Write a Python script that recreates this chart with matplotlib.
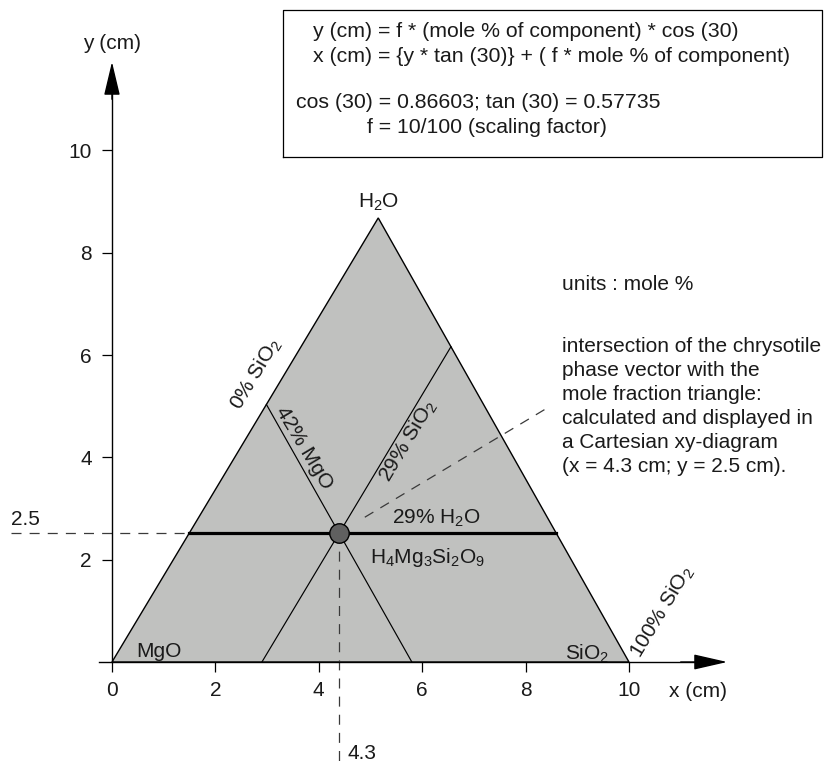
import matplotlib
matplotlib.use("Agg")
import matplotlib.pyplot as plt
import numpy as np

plt.rcParams['font.family'] = ['Liberation Sans', 'DejaVu Sans']
plt.rcParams['mathtext.fontset'] = 'custom'
plt.rcParams['mathtext.rm'] = 'Liberation Sans'
plt.rcParams['mathtext.it'] = 'Liberation Sans'
plt.rcParams['mathtext.default'] = 'regular'

# ---- data ----
components = ["MgO", "SiO$_2$", "H$_2$O"]
vertex_x = [0.0, 10.0, 5.15]
vertex_y = [0.0, 0.0, 8.68]
mole_mgo, mole_sio2, mole_h2o = 42, 29, 29
x_ticks = [0, 2, 4, 6, 8, 10]
y_ticks = [2, 4, 6, 8, 10]
point_x_label = "4.3"
point_y_label = "2.5"
formula_lines = ["y (cm) = f * (mole % of component) * cos (30)",
                 "x (cm) = {y * tan (30)} + ( f * mole % of component)",
                 "",
                 "cos (30) = 0.86603; tan (30) = 0.57735",
                 "f = 10/100 (scaling factor)"]
note_lines = ["intersection of the chrysotile", "phase vector with the",
              "mole fraction triangle:", "calculated and displayed in",
              "a Cartesian xy-diagram", "(x = 4.3 cm; y = 2.5 cm)."]

FS = 15
FSB = 15.35
TXT = '#1a1a1a'

fig = plt.figure(figsize=(8.24, 7.61), dpi=100)
ax = fig.add_axes([0, 0, 1, 1])
ax.set_xlim(-2.166, 13.772)
ax.set_ylim(-1.935, 12.94)

A = np.array([vertex_x[0], vertex_y[0]])
B = np.array([vertex_x[1], vertex_y[1]])
C = np.array([vertex_x[2], vertex_y[2]])

def bary(m, s, h):
    t = m + s + h
    return (m * A + s * B + h * C) / t

# triangle
ax.fill(vertex_x, vertex_y, facecolor='#c0c1bf', edgecolor='black', lw=1.0, zorder=1)

# constant-composition lines
mg = mole_mgo / 100.0
si = mole_sio2 / 100.0
hw = mole_h2o / 100.0
p1 = bary(mg, 1 - mg, 0); p2 = bary(mg, 0, 1 - mg)
ax.plot([p1[0], p2[0]], [p1[1], p2[1]], color='black', lw=0.85, zorder=2)
q1 = bary(1 - si, si, 0); q2 = bary(0, si, 1 - si)
ax.plot([q1[0], q2[0]], [q1[1], q2[1]], color='black', lw=0.85, zorder=2)
r1 = bary(1 - hw, 0, hw); r2 = bary(0, 1 - hw, hw)
ax.plot([r1[0], r2[0]], [r1[1], r2[1]], color='black', lw=2.3, zorder=3)

P = bary(mg, si, hw)

# dashed guide lines
dash = dict(color='#3a3a3a', lw=0.9, dashes=(8, 6.5), zorder=2)
ax.plot([-1.95, P[0]], [P[1], P[1]], **dash)
ax.plot([P[0], P[0]], [P[1], -2.0], **dash)
ax.plot([4.89, 8.41], [2.83, 4.96], **dash)

# intersection point
ax.plot([P[0]], [P[1]], 'o', ms=14, mfc='#606060', mec='black', mew=1.0, zorder=5)

# axes
for s in ['top', 'right']:
    ax.spines[s].set_visible(False)
ax.spines['left'].set_position(('data', 0))
ax.spines['bottom'].set_position(('data', 0))
ax.spines['left'].set_bounds(0, 11.2)
ax.spines['bottom'].set_bounds(-0.25, 11.3)
ax.spines['left'].set_linewidth(1.0)
ax.spines['bottom'].set_linewidth(1.0)
ax.set_xticks(x_ticks)
ax.set_yticks(y_ticks)
ax.set_xticklabels([str(v) for v in x_ticks])
ax.set_yticklabels([str(v) for v in y_ticks])
ax.tick_params(axis='x', direction='out', length=7.5, width=0.9, pad=6.5, labelsize=FS, labelcolor=TXT)
ax.tick_params(axis='y', direction='out', length=7.5, width=0.9, pad=7, labelsize=FS, labelcolor=TXT)

ax.annotate('', xy=(11.9, 0), xytext=(11.0, 0),
            arrowprops=dict(arrowstyle='-|>,head_length=2.1,head_width=0.48',
                            color='black', lw=1.0, shrinkA=0, shrinkB=0), zorder=4)
ax.annotate('', xy=(0, 11.73), xytext=(0, 11.0),
            arrowprops=dict(arrowstyle='-|>,head_length=2.1,head_width=0.5',
                            color='black', lw=1.0, shrinkA=0, shrinkB=0), zorder=4)

ax.text(0.0, 12.09, "y (cm)", ha='center', va='center', fontsize=FS, color=TXT)
ax.text(11.33, -0.57, "x (cm)", ha='center', va='center', fontsize=FS, color=TXT)

# vertex labels
ax.text(5.16, 8.99, components[2], ha='center', va='center', fontsize=FS, color=TXT)
ax.text(0.90, 0.10, components[0], ha='center', va='baseline', fontsize=FS, color=TXT)
ax.text(9.2, 0.05, components[1], ha='center', va='baseline', fontsize=FS, color=TXT)

# line labels
ax.text(2.79, 5.63, "0% SiO$_2$", rotation=59, ha='center', va='center', fontsize=FS, color=TXT,
        rotation_mode='anchor')
ax.text(3.71, 4.18, "42% MgO", rotation=-59, ha='center', va='center', fontsize=FS, color=TXT,
        rotation_mode='anchor')
ax.text(5.73, 4.32, "29% SiO$_2$", rotation=59, ha='center', va='center', fontsize=FS, color=TXT,
        rotation_mode='anchor')
ax.text(6.27, 2.81, "29% H$_2$O", ha='center', va='center', fontsize=FS, color=TXT)
ax.text(6.10, 1.94, "H$_4$Mg$_3$Si$_2$O$_9$", ha='center', va='baseline', fontsize=FS, color=TXT)
ax.text(10.64, 0.98, "100% SiO$_2$", rotation=59, ha='center', va='center', fontsize=FS, color=TXT,
        rotation_mode='anchor')

# guide labels
ax.text(-1.674, 2.795, point_y_label, ha='center', va='center', fontsize=FS, color=TXT)
ax.text(4.55, -1.78, point_x_label, ha='left', va='center', fontsize=FS, color=TXT)

# notes
ax.text(8.70, 7.37, "units : mole %", ha='left', va='center', fontsize=FS, color=TXT)
ax.text(8.70, 4.99, "\n".join(note_lines), ha='left', va='center', fontsize=FS, color=TXT,
        linespacing=1.33)

# formula box
box_x0, box_x1 = 3.31, 13.73
box_y0, box_y1 = 9.87, 12.74
ax.plot([box_x0, box_x1, box_x1, box_x0, box_x0], [box_y0, box_y0, box_y1, box_y1, box_y0],
        color='black', lw=0.9)
ax.text(3.89, 12.32, formula_lines[0], ha='left', va='center', fontsize=FSB, color=TXT)
ax.text(3.89, 11.83, formula_lines[1], ha='left', va='center', fontsize=FSB, color=TXT)
ax.text(3.56, 10.93, formula_lines[3], ha='left', va='center', fontsize=FSB, color=TXT)
ax.text(4.93, 10.44, formula_lines[4], ha='left', va='center', fontsize=FSB, color=TXT)

fig.savefig("out.png", dpi=100)
